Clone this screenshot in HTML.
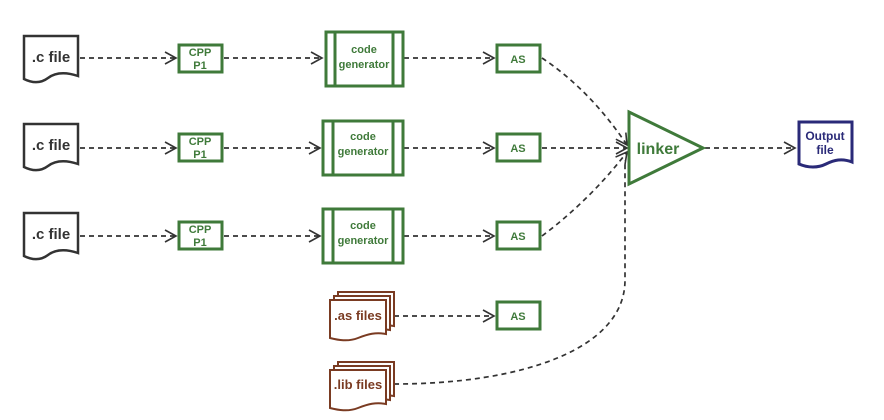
<!DOCTYPE html>
<html><head><style>html,body{margin:0;padding:0;background:#fff}svg{display:block}</style></head>
<body>
<svg width="884" height="420" viewBox="0 0 884 420" xmlns="http://www.w3.org/2000/svg" font-family="Liberation Sans, sans-serif" font-weight="bold">
<defs>
<marker id="ar" markerWidth="14" markerHeight="16" refX="12" refY="8" orient="auto" markerUnits="userSpaceOnUse">
<path d="M1,2 L12,8 L1,14" fill="none" stroke="#333" stroke-width="1.6"/>
</marker>
</defs>
<g stroke="#333" stroke-width="1.7" stroke-dasharray="5,4" fill="none" marker-end="url(#ar)">
<path d="M80,58 H176"/>
<path d="M224,58 H322"/>
<path d="M404,58 H494"/>
<path d="M80,148 H176"/>
<path d="M224,148 H320"/>
<path d="M404,148 H494"/>
<path d="M80,236 H176"/>
<path d="M224,236 H320"/>
<path d="M404,236 H494"/>
<path d="M394,316 H494"/>
<path d="M542,58 Q590,90 627,145"/>
<path d="M542,148 H627"/>
<path d="M542,236 Q590,200 627,152"/>
<path d="M705,148 H795"/>
</g>
<path d="M394,384 C520,384 625,350 625,280 V160" fill="none" stroke="#333" stroke-width="1.7" stroke-dasharray="5,4"/>
<g fill="#fff" stroke="#333" stroke-width="2.5">
<path d="M24,36 H78 V76 C66,72 56,72 48,78 C40,84 32,83 24,79 Z"/>
<path d="M24,124 H78 V164 C66,160 56,160 48,166 C40,172 32,171 24,167 Z"/>
<path d="M24,213 H78 V253 C66,249 56,249 48,255 C40,261 32,260 24,256 Z"/>
</g>
<g font-size="15" fill="#333" text-anchor="middle">
<text x="51" y="62">.c file</text>
<text x="51" y="150">.c file</text>
<text x="51" y="239">.c file</text>
</g>
<g fill="#fff" stroke="#3f7a3a" stroke-width="3">
<rect x="179" y="45" width="43" height="27"/>
<rect x="179" y="134" width="43" height="27"/>
<rect x="179" y="222" width="43" height="27"/>
<rect x="326" y="32" width="77" height="54"/>
<rect x="323" y="121" width="80" height="54"/>
<rect x="323" y="209" width="80" height="54"/>
<rect x="497" y="45" width="43" height="27"/>
<rect x="497" y="134" width="43" height="27"/>
<rect x="497" y="222" width="43" height="27"/>
<rect x="497" y="302" width="43" height="27"/>
<path d="M629,112 L703,148 L629,184 Z"/>
</g>
<g stroke="#3f7a3a" stroke-width="3">
<line x1="335" y1="32" x2="335" y2="86"/><line x1="393" y1="32" x2="393" y2="86"/>
<line x1="333" y1="121" x2="333" y2="175"/><line x1="393" y1="121" x2="393" y2="175"/>
<line x1="333" y1="209" x2="333" y2="263"/><line x1="393" y1="209" x2="393" y2="263"/>
</g>
<g font-size="11" fill="#3f7a3a" text-anchor="middle">
<text x="200" y="56">CPP</text><text x="200" y="69">P1</text>
<text x="200" y="145">CPP</text><text x="200" y="158">P1</text>
<text x="200" y="233">CPP</text><text x="200" y="246">P1</text>
<text x="364" y="53">code</text><text x="364" y="68">generator</text>
<text x="363" y="140">code</text><text x="363" y="155">generator</text>
<text x="363" y="229">code</text><text x="363" y="244">generator</text>
<text x="518" y="63">AS</text>
<text x="518" y="152">AS</text>
<text x="518" y="240">AS</text>
<text x="518" y="320">AS</text>
<text x="658" y="154" font-size="16">linker</text>
</g>
<g fill="#fff" stroke="#7a3b22" stroke-width="2">
<path d="M338,292 H394 V326 C384,324 376,326 366,330 C356,334 346,332 338,330 Z"/>
<path d="M334,296 H390 V330 C380,328 372,330 362,334 C352,338 342,336 334,334 Z"/>
<path d="M330,300 H386 V334 C376,332 368,334 358,338 C348,342 338,340 330,338 Z"/>
<path d="M338,362 H394 V396 C384,394 376,396 366,400 C356,404 346,402 338,400 Z"/>
<path d="M334,366 H390 V400 C380,398 372,400 362,404 C352,408 342,406 334,404 Z"/>
<path d="M330,370 H386 V404 C376,402 368,404 358,408 C348,412 338,410 330,408 Z"/>
</g>
<g font-size="13" fill="#7a3b22" text-anchor="middle">
<text x="358" y="320">.as files</text>
<text x="358" y="389">.lib files</text>
</g>
<path d="M799,122 H852 V162 C842,158 834,160 826,164 C818,168 808,168 799,164 Z" fill="#fff" stroke="#2a2a78" stroke-width="3"/>
<g font-size="12" fill="#2a2a78" text-anchor="middle">
<text x="825" y="140">Output</text><text x="825" y="154">file</text>
</g>
</svg>
</body></html>
